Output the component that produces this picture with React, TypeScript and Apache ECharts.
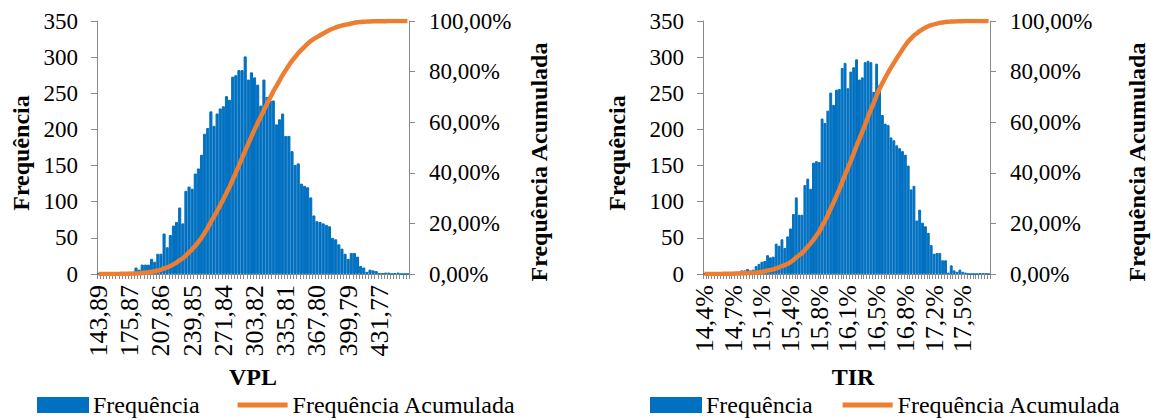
import React, { useEffect, useRef } from "react";
import * as echarts from "echarts";

const FONT = "Liberation Serif";

// VPL histogram (100 bins)
const vplTickLabels = ["143,89", "175,87", "207,86", "239,85", "271,84", "303,82", "335,81", "367,80", "399,79", "431,77"];
const vplFreq = [
  1, 0, 0, 1, 0, 1, 1, 1, 2, 2,
  3, 3, 9, 6, 13, 13, 13, 21, 17, 28,
  28, 56, 37, 54, 67, 72, 92, 70, 115, 121,
  118, 139, 146, 165, 194, 202, 225, 205, 222, 229,
  232, 246, 241, 273, 275, 282, 282, 301, 269, 279,
  272, 262, 233, 269, 245, 240, 240, 207, 214, 222,
  191, 191, 170, 151, 153, 125, 122, 120, 106, 81,
  73, 72, 70, 68, 66, 50, 48, 41, 35, 28,
  21, 29, 29, 24, 11, 9, 3, 6, 5, 4,
  1, 1, 2, 2, 0, 1, 2, 0, 0, 0,
];

// TIR histogram (100 bins)
const tirTickLabels = ["14,4%", "14,7%", "15,1%", "15,4%", "15,8%", "16,1%", "16,5%", "16,8%", "17,2%", "17,5%"];
const tirFreq = [
  1, 0, 1, 0, 1, 1, 1, 2, 2, 2,
  3, 3, 3, 5, 5, 7, 5, 6, 11, 14,
  17, 18, 26, 23, 24, 42, 39, 48, 36, 52,
  63, 83, 106, 82, 82, 123, 132, 118, 154, 156,
  155, 215, 209, 226, 251, 234, 255, 256, 285, 292,
  257, 280, 286, 297, 269, 272, 293, 295, 293, 252,
  291, 261, 220, 208, 206, 189, 185, 178, 174, 170,
  165, 150, 117, 122, 74, 89, 71, 66, 57, 40,
  28, 29, 29, 19, 19, 2, 12, 5, 3, 6,
  3, 2, 0, 0, 0, 0, 1, 1, 1, 0,
];

const freqTicks = [0, 50, 100, 150, 200, 250, 300, 350];

function cumulative(freq: number[]): number[] {
  const total = freq.reduce((a, b) => a + b, 0);
  let run = 0;
  return freq.map((v) => {
    run += v;
    return run / total;
  });
}

const AXIS_COLOR = "#898989";
const BAR_COLOR = "#0070C0";
const LINE_COLOR = "#ED7D31";

export default function App() {
  const ref = useRef<HTMLDivElement>(null);

  useEffect(() => {
    document.body.style.margin = "0";
    if (!ref.current) return;
    const chart = echarts.init(ref.current, null, { renderer: "svg", width: 1151, height: 420 });

    const lineStyle = { color: AXIS_COLOR, width: 1 };
    const labelBase = { fontFamily: FONT, fontSize: 23, color: "#000" };

    const mkX = (gridIndex: number, n: number, ticks: string[]) => ({
      type: "category",
      gridIndex,
      data: Array.from({ length: n }, (_, i) => String(i)),
      boundaryGap: true,
      axisLine: { show: true, lineStyle },
      axisTick: { show: true, interval: 0, length: 5, lineStyle },
      axisLabel: {
        ...labelBase,
        fontSize: 26,
        interval: 9,
        rotate: 90,
        margin: 11,
        formatter: (_v: string, idx: number) => ticks[idx / 10] ?? "",
      },
      splitLine: { show: false },
    });

    const mkYLeft = (gridIndex: number) => ({
      type: "value",
      gridIndex,
      position: "left",
      min: freqTicks[0],
      max: freqTicks[freqTicks.length - 1],
      interval: 50,
      axisLine: { show: true, lineStyle },
      axisTick: { show: true, length: 6, lineStyle },
      axisLabel: { ...labelBase, margin: 19 },
      splitLine: { show: false },
    });

    const mkYRight = (gridIndex: number) => ({
      type: "value",
      gridIndex,
      position: "right",
      min: 0,
      max: 1,
      interval: 0.2,
      axisLine: { show: true, lineStyle },
      axisTick: { show: true, length: 6, lineStyle },
      axisLabel: {
        ...labelBase,
        margin: 20,
        formatter: (v: number) => (v * 100).toFixed(2).replace(".", ",") + "%",
      },
      splitLine: { show: false },
    });

    const barSeries = (name: string, xi: number, yi: number, data: number[]) => ({
      type: "bar",
      name,
      xAxisIndex: xi,
      yAxisIndex: yi,
      data,
      barCategoryGap: "0%",
      itemStyle: { color: BAR_COLOR, borderColor: BAR_COLOR, borderWidth: 1 },
    });
    const lineSeries = (name: string, xi: number, yi: number, data: number[]) => ({
      type: "line",
      name,
      xAxisIndex: xi,
      yAxisIndex: yi,
      data,
      symbol: "none",
      showSymbol: false,
      lineStyle: { color: LINE_COLOR, width: 4.5 },
      itemStyle: { color: LINE_COLOR },
      z: 3,
    });

    const legendBase = {
      top: 388,
      itemWidth: 50,
      itemHeight: 14,
      selectedMode: false,
      textStyle: { fontFamily: FONT, fontSize: 24, color: "#000" },
      data: [
        { name: "Frequência", icon: "rect" },
        { name: "Frequência Acumulada", icon: "path://M0,0H50V5H0Z" },
      ],
    };

    const titleText = (text: string, x: number, y: number, rotate: boolean) => ({
      type: "text",
      x,
      y,
      rotation: rotate ? Math.PI / 2 : 0,
      style: {
        text,
        fontFamily: FONT,
        fontSize: 24,
        fontWeight: "bold",
        fill: "#000",
        align: "center",
        verticalAlign: "middle",
      },
    });

    chart.setOption({
      animation: false,
      backgroundColor: "#fff",
      grid: [
        { left: 97, top: 21, width: 312, height: 253 },
        { left: 703, top: 21, width: 287, height: 253 },
      ],
      xAxis: [mkX(0, vplFreq.length, vplTickLabels), mkX(1, tirFreq.length, tirTickLabels)],
      yAxis: [mkYLeft(0), mkYRight(0), mkYLeft(1), mkYRight(1)],
      series: [
        barSeries("Frequência", 0, 0, vplFreq),
        lineSeries("Frequência Acumulada", 0, 1, cumulative(vplFreq)),
        barSeries("Frequência", 1, 2, tirFreq),
        lineSeries("Frequência Acumulada", 1, 3, cumulative(tirFreq)),
      ],
      legend: [
        { ...legendBase, left: 32, itemGap: 38 },
        { ...legendBase, left: 645, itemGap: 30 },
      ],
      graphic: [
        titleText("Frequência", 21, 153, true),
        titleText("Frequência Acumulada", 539, 162, true),
        titleText("VPL", 253, 377, false),
        titleText("Frequência", 617, 153, true),
        titleText("Frequência Acumulada", 1137, 162, true),
        titleText("TIR", 853, 377, false),
      ],
    });

    return () => chart.dispose();
  }, []);

  return <div ref={ref} style={{ width: 1151, height: 420 }} />;
}
